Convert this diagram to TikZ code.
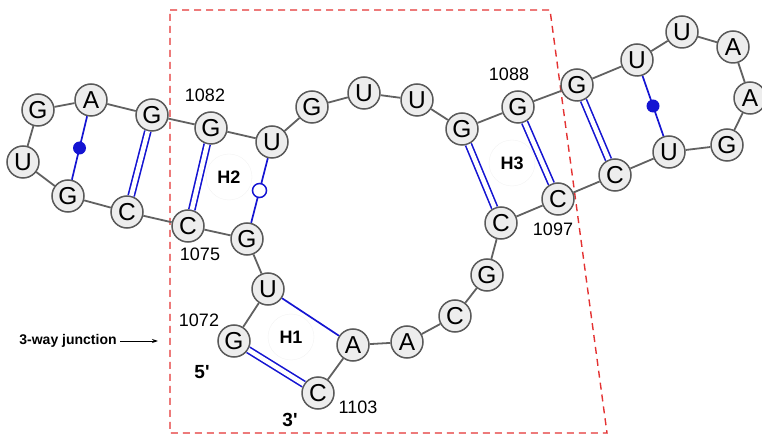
\documentclass[tikz,border=0pt]{standalone}
\usepackage{fontspec}
\setmainfont{Liberation Sans}
\usetikzlibrary{arrows.meta}

\definecolor{boxred}{RGB}{228,50,50}
\definecolor{pairblue}{RGB}{20,20,210}

\tikzset{
  nt/.style={circle,draw=black!65,fill=black!7,line width=1.5pt,
    minimum size=32pt,inner sep=0pt,font=\fontsize{24.5}{24.5}\selectfont},
  backbone/.style={draw=black!62,line width=1.8pt},
  wc/.style={draw=pairblue,line width=1.6pt,double=white,double distance=4.5pt},
  single/.style={draw=pairblue,line width=1.7pt},
  gudot/.style={circle,fill=pairblue,inner sep=0pt,minimum size=13pt},
  opendot/.style={circle,draw=pairblue,fill=white,line width=1.5pt,inner sep=0pt,minimum size=14pt},
  helix/.style={circle,draw=black!5,minimum size=46pt,inner sep=0pt,
    font=\bfseries\fontsize{18}{18}\selectfont},
  num/.style={font=\fontsize{18}{18}\selectfont},
  endlbl/.style={font=\bfseries\fontsize{19}{19}\selectfont}
}

\begin{document}
\begin{tikzpicture}[x=1pt,y=-1pt]
  \useasboundingbox (0,0) rectangle (762,435);

  % junction box
  \draw[boxred,line width=1.4pt,dash pattern=on 7pt off 5pt]
    (170,10) -- (550,10) -- (607,433) -- (170,433) -- cycle;

  % nucleotides
  \foreach \num/\base/\px/\py in {
      1072/G/234/341, 1073/U/268/289, 1074/G/247/239, 1075/C/188/226,
      1076/C/127/212, 1077/G/68/196,  1078/U/23/162,  1079/G/38/110,
      1080/A/91/100,  1081/G/152/115, 1082/G/211/128, 1083/U/272/142,
      1084/G/312/107, 1085/U/364/93,  1086/U/417/100, 1087/G/462/129,
      1088/G/518/107, 1089/G/577/85,  1090/U/637/60,  1091/U/682/32,
      1092/A/733/47,  1093/A/750/98,  1094/G/727/145, 1095/U/669/152,
      1096/C/615/175, 1097/C/558/199, 1098/C/501/223, 1099/G/487/275,
      1100/C/455/316, 1101/A/407/342, 1102/A/353/345, 1103/C/318/393}
    \node[nt] (n\num) at (\px,\py) {\base};

  % backbone
  \draw[backbone] (n1072) -- (n1073) -- (n1074) -- (n1075) -- (n1076) -- (n1077)
    -- (n1078) -- (n1079) -- (n1080) -- (n1081) -- (n1082) -- (n1083) -- (n1084)
    -- (n1085) -- (n1086) -- (n1087) -- (n1088) -- (n1089) -- (n1090) -- (n1091)
    -- (n1092) -- (n1093) -- (n1094) -- (n1095) -- (n1096) -- (n1097) -- (n1098)
    -- (n1099) -- (n1100) -- (n1101) -- (n1102) -- (n1103);

  % base pairs
  \draw[wc] (n1072) -- (n1103);
  \draw[single] (n1073) -- (n1102);
  \draw[single] (n1074) -- node[opendot] (w1) {} (n1083);
  \draw[wc] (n1075) -- (n1082);
  \draw[wc] (n1076) -- (n1081);
  \draw[single] (n1077) -- node[gudot] (w2) {} (n1080);
  \draw[wc] (n1087) -- (n1098);
  \draw[wc] (n1088) -- (n1097);
  \draw[wc] (n1089) -- (n1096);
  \draw[single] (n1090) -- node[gudot] (w3) {} (n1095);

  % helix labels
  \node[helix] (h1) at (291,337) {H1};
  \node[helix] (h2) at (229,177) {H2};
  \node[helix] (h3) at (512,163) {H3};

  % numbering
  \node[num] (l1072) at (199,320) {1072};
  \node[num] (l1075) at (200,254) {1075};
  \node[num] (l1082) at (205,95) {1082};
  \node[num] (l1088) at (509,74) {1088};
  \node[num] (l1097) at (553,229) {1097};
  \node[num] (l1103) at (358,407) {1103};

  \node[endlbl] (five) at (202,372) {5\textquotesingle};
  \node[endlbl] (three) at (290,420) {3\textquotesingle};

  \node[font=\bfseries\fontsize{14}{14}\selectfont] (jct) at (68,341) {3-way junction};
  \coordinate (jtip) at (158,341);
  \draw[-{Stealth[length=6pt,width=4pt]},line width=0.9pt] (jct) -- (jtip);
\end{tikzpicture}
\end{document}
